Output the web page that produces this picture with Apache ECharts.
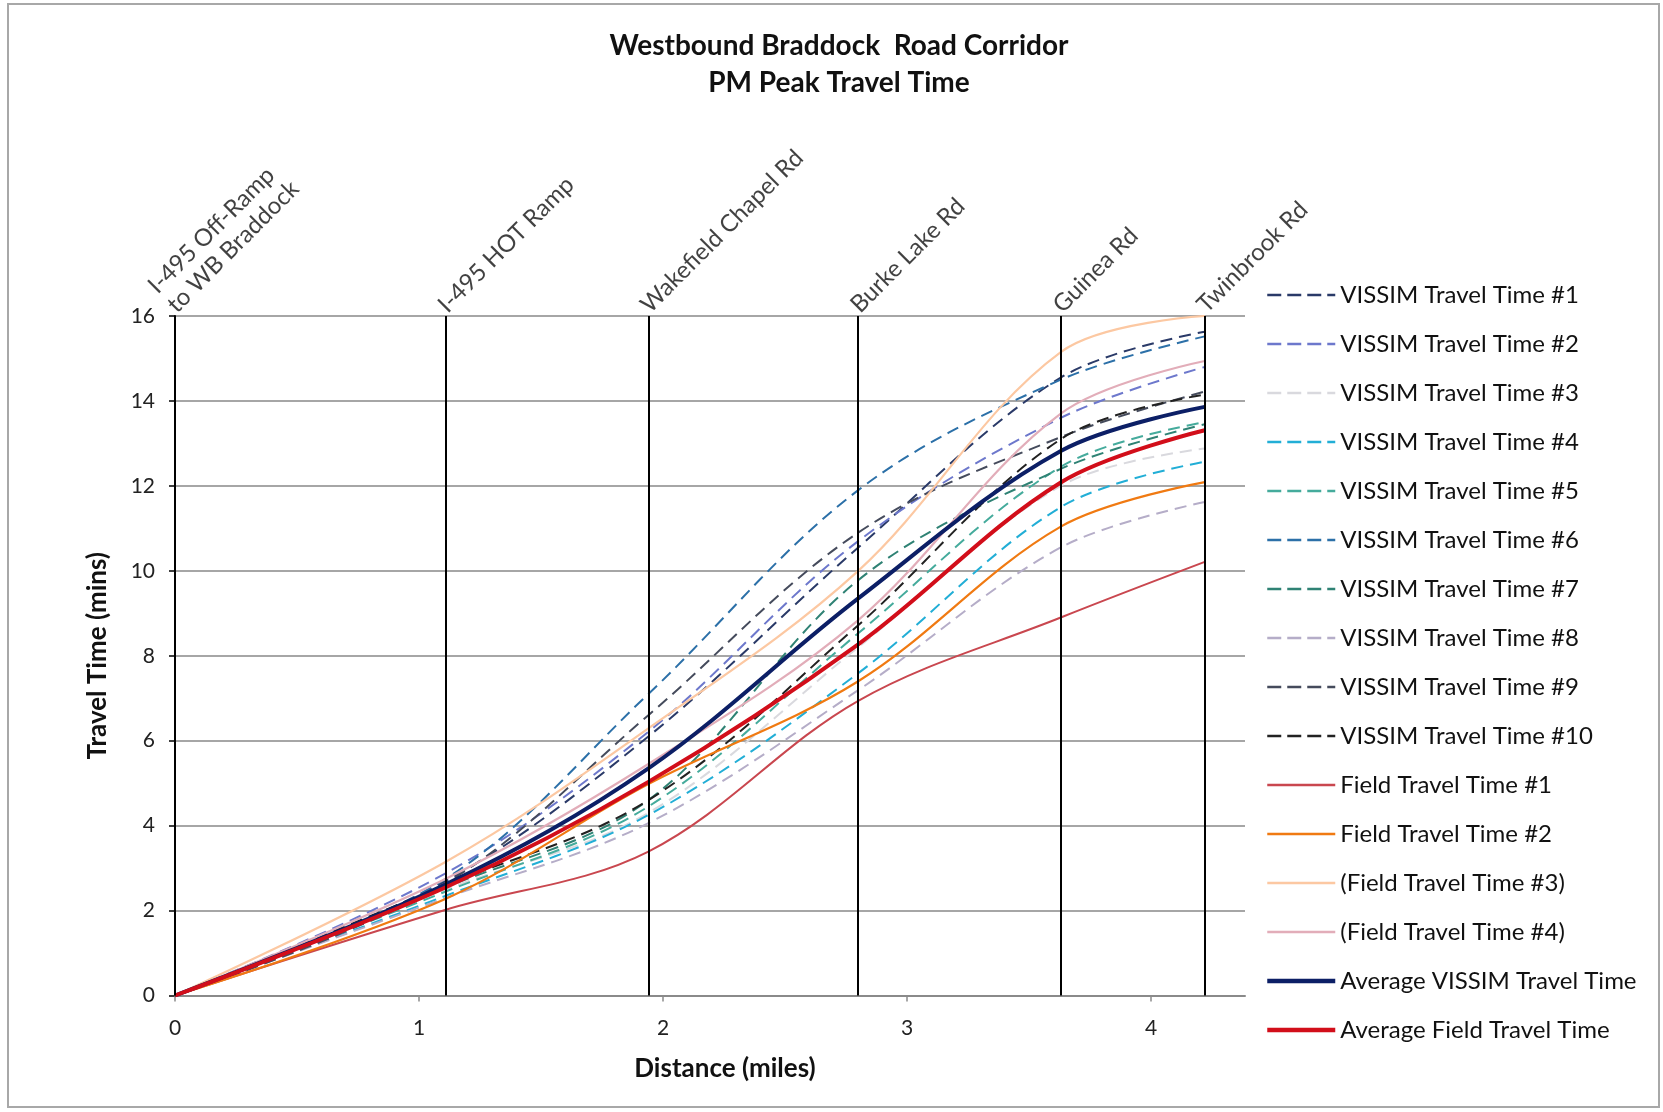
<!DOCTYPE html>
<html>
<head>
<meta charset="utf-8">
<script src="https://cdn.jsdelivr.net/npm/echarts@6/dist/echarts.min.js"></script>
<style>
html,body{margin:0;padding:0;background:#fff;}
#chart{width:1663px;height:1112px;}
</style>
</head>
<body>
<div id="chart"></div>
<script>
// Landmark positions (miles) and names
const distances = [0, 1.11, 1.94, 2.80, 3.63, 4.22];
const landmarkNames = ["I-495 Off-Ramp\nto WB Braddock", "I-495 HOT Ramp", "Wakefield Chapel Rd", "Burke Lake Rd", "Guinea Rd", "Twinbrook Rd"];

// Travel time (mins) at each landmark
const vissim1  = [0, 2.70, 6.10, 10.55, 14.55, 15.63];
const vissim2  = [0, 2.88, 6.21, 10.70, 13.60, 14.80];
const vissim3  = [0, 2.50, 4.30, 8.20, 12.00, 12.88];
const vissim4  = [0, 2.35, 4.25, 7.59, 11.50, 12.57];
const vissim5  = [0, 2.45, 4.45, 8.53, 12.45, 13.50];
const vissim6  = [0, 2.75, 7.10, 11.90, 14.50, 15.52];
const vissim7  = [0, 2.55, 4.60, 9.78, 12.40, 13.45];
const vissim8  = [0, 2.30, 4.06, 7.19, 10.55, 11.62];
const vissim9  = [0, 2.65, 6.60, 10.90, 13.15, 14.22];
const vissim10 = [0, 2.60, 4.60, 8.72, 13.10, 14.15];
const field1   = [0, 2.02, 3.39, 6.94, 8.90, 10.21];
const field2   = [0, 2.28, 4.98, 7.40, 11.04, 12.09];
const field3   = [0, 3.15, 6.29, 10.00, 15.15, 16.00];
const field4   = [0, 2.75, 5.45, 8.84, 13.70, 14.94];
const avgVissim = [0, 2.62, 5.35, 9.35, 12.82, 13.86];
const avgField  = [0, 2.55, 5.03, 8.27, 12.08, 13.31];

const yTicks = [0, 2, 4, 6, 8, 10, 12, 14, 16];
const xTicks = [0, 1, 2, 3, 4];

const FONT = 'Lato';
const dash = [12, 7];

const seriesDefs = [
  {name: 'VISSIM Travel Time #1', data: vissim1, color: '#2a3a68', w: 2, dashed: true},
  {name: 'VISSIM Travel Time #2', data: vissim2, color: '#6d78cc', w: 2, dashed: true},
  {name: 'VISSIM Travel Time #3', data: vissim3, color: '#d9d9de', w: 2, dashed: true},
  {name: 'VISSIM Travel Time #4', data: vissim4, color: '#22aed6', w: 2, dashed: true},
  {name: 'VISSIM Travel Time #5', data: vissim5, color: '#45ab9c', w: 2, dashed: true},
  {name: 'VISSIM Travel Time #6', data: vissim6, color: '#2c70a8', w: 2, dashed: true},
  {name: 'VISSIM Travel Time #7', data: vissim7, color: '#2f8274', w: 2, dashed: true},
  {name: 'VISSIM Travel Time #8', data: vissim8, color: '#b5adc8', w: 2, dashed: true},
  {name: 'VISSIM Travel Time #9', data: vissim9, color: '#454b5c', w: 2, dashed: true},
  {name: 'VISSIM Travel Time #10', data: vissim10, color: '#222222', w: 2, dashed: true},
  {name: 'Field Travel Time #1', data: field1, color: '#c9474f', w: 2, dashed: false},
  {name: 'Field Travel Time #2', data: field2, color: '#f07a12', w: 2.2, dashed: false},
  {name: '(Field Travel Time #3)', data: field3, color: '#fcc8a2', w: 2.2, dashed: false},
  {name: '(Field Travel Time #4)', data: field4, color: '#e2adb9', w: 2.2, dashed: false},
  {name: 'Average VISSIM Travel Time', data: avgVissim, color: '#0c1f66', w: 4, dashed: false},
  {name: 'Average Field Travel Time', data: avgField, color: '#d20e1a', w: 4, dashed: false}
];

const series = seriesDefs.map(s => ({
  name: s.name,
  type: 'line',
  smooth: 0.35,
  symbol: 'none',
  showSymbol: false,
  legendIcon: 'none',
  data: distances.map((d, i) => [d, s.data[i]]),
  lineStyle: {color: s.color, width: s.w, type: s.dashed ? dash : 'solid'},
  itemStyle: {color: s.color},
  z: 3
}));

// vertical landmark lines
series.push({
  name: 'landmarks',
  type: 'line',
  data: [],
  silent: true,
  z: 2,
  markLine: {
    silent: true,
    symbol: 'none',
    animation: false,
    label: {show: false},
    lineStyle: {color: '#000', width: 2, type: 'solid'},
    data: distances.map(d => ({xAxis: d}))
  }
});

// landmark labels at the top
series.push({
  name: 'landmarkLabels',
  type: 'scatter',
  symbolSize: 0,
  silent: true,
  data: distances.map((d, i) => ({value: [d, 16], name: landmarkNames[i]})),
  label: {
    show: true,
    formatter: p => p.name,
    position: [6, 2],
    rotate: 45,
    align: 'left',
    verticalAlign: 'bottom',
    fontFamily: FONT,
    fontSize: 24,
    lineHeight: 27,
    color: '#111',
    distance: 0
  },
  z: 5
});

const chart = echarts.init(document.getElementById('chart'), null, {renderer: 'canvas'});
chart.setOption({
  animation: false,
  backgroundColor: '#fff',
  graphic: [{
    type: 'rect',
    shape: {x: 8, y: 4, width: 1651, height: 1103},
    style: {fill: 'none', stroke: '#a8a8a8', lineWidth: 2},
    silent: true, z: -10
  }],
  title: {
    text: 'Westbound Braddock  Road Corridor\nPM Peak Travel Time',
    left: 834,
    top: 22,
    textAlign: 'center',
    textStyle: {fontFamily: FONT, fontWeight: 'bold', fontSize: 28, lineHeight: 37, color: '#111'}
  },
  legend: {
    orient: 'vertical',
    left: 1265,
    top: 283,
    padding: 0,
    itemWidth: 68,
    itemHeight: 14,
    itemGap: 25,
    data: seriesDefs.map(s => ({
      name: s.name,
      lineStyle: {width: s.w + 0.5, color: s.color, type: s.dashed ? [14, 6] : 'solid'}
    })),
    itemStyle: {opacity: 0},
    textStyle: {fontFamily: FONT, fontSize: 24, lineHeight: 24, color: '#111'},
    selectedMode: false
  },
  grid: {left: 175, right: 418, top: 316, bottom: 116.5, containLabel: false},
  xAxis: {
    type: 'value',
    min: 0,
    max: 4.385,
    interval: 1,
    name: 'Distance (miles)',
    nameLocation: 'middle',
    nameGap: 60,
    nameTextStyle: {fontFamily: FONT, fontWeight: 'bold', fontSize: 26, color: '#111', padding: [0, 0, 0, 30]},
    axisLine: {show: true, onZero: false, lineStyle: {color: '#8a8a8a', width: 2}},
    axisTick: {show: true, length: 6, lineStyle: {color: '#8a8a8a', width: 1.5}, customValues: xTicks},
    axisLabel: {fontFamily: FONT, fontSize: 21, color: '#222', margin: 22, customValues: xTicks},
    splitLine: {show: false}
  },
  yAxis: {
    type: 'value',
    min: 0,
    max: 16,
    interval: 2,
    name: 'Travel Time (mins)',
    nameLocation: 'middle',
    nameGap: 64,
    nameRotate: 90,
    nameTextStyle: {fontFamily: FONT, fontWeight: 'bold', fontSize: 26, color: '#111'},
    axisLine: {show: true, lineStyle: {color: '#000', width: 2}},
    axisTick: {show: true, length: 6, lineStyle: {color: '#000', width: 1.5}},
    axisLabel: {fontFamily: FONT, fontSize: 21, color: '#222', margin: 20, formatter: v => yTicks.includes(v) ? String(v) : ''},
    splitLine: {show: true, lineStyle: {color: '#a6a6a6', width: 2}}
  },
  series: series
});
</script>
</body>
</html>
